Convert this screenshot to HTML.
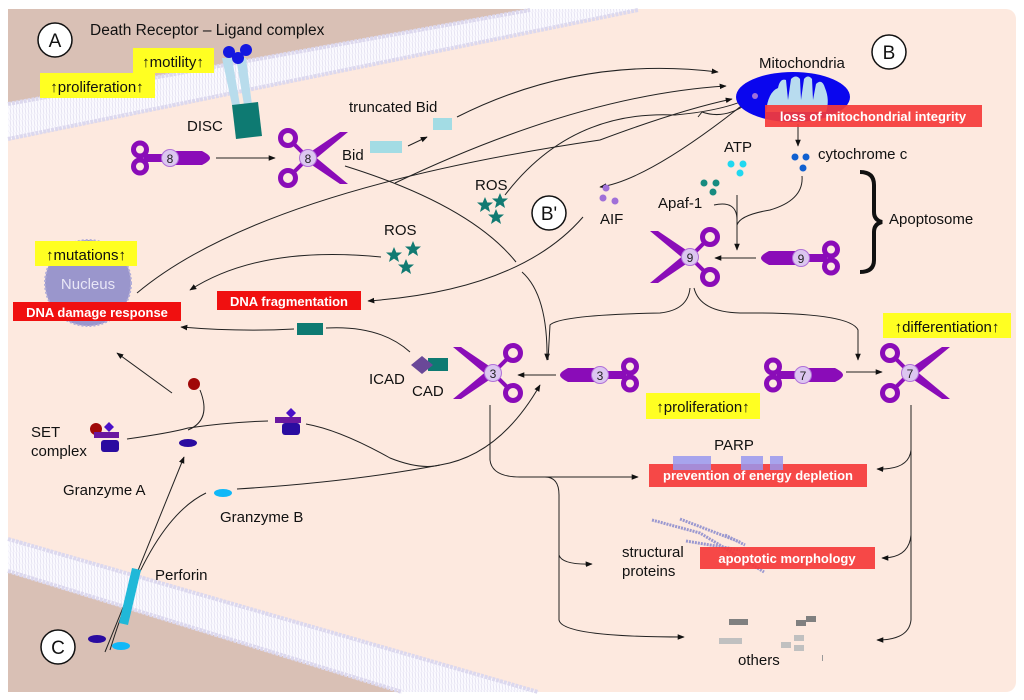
<!DOCTYPE html>
<html><head><meta charset="utf-8"><style>
html,body{margin:0;padding:0;background:#fff;}
svg{display:block;font-family:"Liberation Sans",Arial,sans-serif;}
</style></head><body>
<svg width="1024" height="700" viewBox="0 0 1024 700" xmlns="http://www.w3.org/2000/svg">
<defs>
<marker id="ar" viewBox="0 0 10 10" refX="9" refY="5" markerWidth="7" markerHeight="7" orient="auto"><path d="M0,1 L10,5 L0,9 z" fill="#111"/></marker>
<pattern id="lip" width="6" height="6" patternUnits="userSpaceOnUse"><rect width="6" height="6" fill="#fbfaff"/><line x1="1" y1="0" x2="2" y2="6" stroke="#e2dff0" stroke-width="0.8"/><line x1="4" y1="0" x2="5" y2="6" stroke="#e2dff0" stroke-width="0.8"/></pattern>
<g id="act">
  <path d="M-2,-3 L32,-26 L40,-26 L5,3 z" fill="#8a0cb8"/>
  <path d="M-2,3 L32,26 L40,26 L5,-3 z" fill="#8a0cb8"/>
  <line x1="0" y1="0" x2="-15" y2="-15" stroke="#8a0cb8" stroke-width="4"/>
  <line x1="0" y1="0" x2="-15" y2="15" stroke="#8a0cb8" stroke-width="4"/>
  <circle cx="-20" cy="-20" r="7.5" fill="none" stroke="#8a0cb8" stroke-width="5"/>
  <circle cx="-20" cy="20" r="7.5" fill="none" stroke="#8a0cb8" stroke-width="5"/>
  <circle cx="0" cy="0" r="8.5" fill="#dcc6f0" stroke="#b070d8" stroke-width="1"/>
</g>
<g id="pro">
  <circle cx="-30" cy="-8.5" r="6.5" fill="none" stroke="#8a0cb8" stroke-width="5"/>
  <circle cx="-30" cy="8.5" r="6.5" fill="none" stroke="#8a0cb8" stroke-width="5"/>
  <rect x="-26" y="-4" width="28" height="8" fill="#8a0cb8"/>
  <path d="M0,-7 L32,-7 Q40,-3 40,0 Q40,3 32,7 L0,7 z" fill="#8a0cb8"/>
  <circle cx="0" cy="0" r="8.5" fill="#dcc6f0" stroke="#b070d8" stroke-width="1"/>
</g>
<g id="star"><path d="M0,-8 L2.3,-2.5 L8,-2.5 L3.5,1.2 L5,7 L0,3.6 L-5,7 L-3.5,1.2 L-8,-2.5 L-2.3,-2.5 z" fill="#127a72"/></g>
</defs>

<rect x="0" y="0" width="1024" height="700" fill="#fff"/>
<rect x="8" y="9" width="1008" height="683" rx="10" fill="#fde9df"/>
<!-- top brown + membrane -->
<path d="M8,9 L640,9 L8,140 z" fill="#d9c0b5"/>
<path d="M8,103 L530,9 L640,9 L8,140 z" fill="url(#lip)"/>
<path d="M8,104 L530,10" stroke="#dcd8ee" stroke-width="4" stroke-dasharray="3 1"/>
<path d="M8,139 L638,10" stroke="#dcd8ee" stroke-width="4" stroke-dasharray="3 1"/>
<!-- bottom brown + membrane -->
<path d="M8,572 L400,692 L8,692 z" fill="#d9c0b5"/>
<path d="M8,538 L540,692 L400,692 L8,572 z" fill="url(#lip)"/>
<path d="M8,539 L538,692" stroke="#dcd8ee" stroke-width="4" stroke-dasharray="3 1"/>
<path d="M8,571 L402,692" stroke="#dcd8ee" stroke-width="4" stroke-dasharray="3 1"/>

<!-- labels circles -->
<g fill="#fff" stroke="#111" stroke-width="1.5">
<circle cx="55" cy="40" r="17"/><circle cx="889" cy="52" r="17"/><circle cx="549" cy="213" r="17"/><circle cx="58" cy="647" r="17"/>
</g>
<g font-size="19" text-anchor="middle" fill="#111">
<text x="55" y="47">A</text><text x="889" y="59">B</text><text x="549" y="220">B'</text><text x="58" y="654">C</text>
</g>
<text x="90" y="35" font-size="15.5" fill="#111">Death Receptor – Ligand complex</text>

<!-- yellow boxes -->
<rect x="133" y="48" width="81" height="25" fill="#ffff22"/>
<text x="173" y="67" font-size="15" text-anchor="middle" fill="#111">↑motility↑</text>
<rect x="40" y="73" width="115" height="25" fill="#ffff22"/>
<text x="97" y="92" font-size="15" text-anchor="middle" fill="#111">↑proliferation↑</text>

<!-- DISC -->
<path d="M222,58 L232,58 L240,105 L232,105 z" fill="#b8dcec"/>
<path d="M236,58 L246,58 L252,105 L244,105 z" fill="#b8dcec"/>
<path d="M232,105 L258,102 L262,136 L236,139 z" fill="#0e7a72"/>
<circle cx="229" cy="52" r="6" fill="#1418e0"/><circle cx="246" cy="50" r="6" fill="#1418e0"/><circle cx="238" cy="58" r="6" fill="#1418e0"/>
<text x="187" y="131" font-size="15" fill="#111">DISC</text>

<!-- connectors -->
<g fill="none" stroke="#222" stroke-width="1">
<path d="M216,158 L275,158" marker-end="url(#ar)"/>
<path d="M408,146 L427,137" marker-end="url(#ar)"/>
<path d="M457,117 Q580,55 718,72" marker-end="url(#ar)"/>
<path d="M395,183 Q580,95 726,86" marker-end="url(#ar)"/>
<path d="M137,293 Q260,190 600,140 Q680,110 732,99" marker-end="url(#ar)"/>
<path d="M505,195 Q570,110 675,115 Q730,110 755,95"/>
<path d="M755,95 Q650,180 600,187" marker-end="url(#ar)"/>
<path d="M748,103 Q725,120 702,112 M702,112 L698,117"/>
<path d="M798,124 L798,146" marker-end="url(#ar)"/>
<path d="M381,257 Q260,245 190,290" marker-end="url(#ar)"/>
<path d="M583,217 Q520,290 368,301" marker-end="url(#ar)"/>
<path d="M294,329 Q240,332 181,327" marker-end="url(#ar)"/>
<path d="M326,328 Q380,325 410,352"/>
<path d="M345,166 Q470,205 516,262"/>
<path d="M522,272 Q548,295 547,360" marker-end="url(#ar)"/>
<path d="M690,288 Q688,310 660,313 Q560,315 550,325 L548,360"/>
<path d="M694,288 Q700,312 740,313 Q850,312 858,330 L858,360" marker-end="url(#ar)"/>
<path d="M737,195 L737,250" marker-end="url(#ar)"/>
<path d="M714,205 Q737,200 737,220"/>
<path d="M802,176 Q804,200 770,210 Q740,215 737,225"/>
<path d="M756,258 L715,258" marker-end="url(#ar)"/>
<path d="M556,375 L518,375" marker-end="url(#ar)"/>
<path d="M846,372 L882,372" marker-end="url(#ar)"/>
<path d="M200,390 Q212,420 188,430"/>
<path d="M127,439 Q170,433 188,428 Q230,422 268,421"/>
<path d="M172,393 L117,353" marker-end="url(#ar)"/>
<path d="M306,424 Q340,430 390,458 Q420,470 440,465"/>
<path d="M237,489 Q350,482 440,465 Q500,455 540,385" marker-end="url(#ar)"/>
<path d="M105,652 L184,457" marker-end="url(#ar)"/>
<path d="M110,650 Q150,520 206,493"/>
<path d="M490,405 L490,460 Q492,477 520,477 L638,477" marker-end="url(#ar)"/>
<path d="M545,477 Q559,477 559,495 L559,555 Q562,565 592,564" marker-end="url(#ar)"/>
<path d="M559,555 L559,620 Q562,637 684,637" marker-end="url(#ar)"/>
<path d="M911,405 L911,450 Q909,470 877,469" marker-end="url(#ar)"/>
<path d="M911,450 L911,535 Q909,558 882,558" marker-end="url(#ar)"/>
<path d="M911,535 L911,620 Q909,640 877,640" marker-end="url(#ar)"/>
</g>

<!-- caspase 8 -->
<use href="#pro" x="170" y="158"/>
<text x="170" y="163" font-size="12" text-anchor="middle" fill="#222">8</text>
<use href="#act" x="308" y="158"/>
<text x="308" y="163" font-size="12" text-anchor="middle" fill="#222">8</text>

<text x="342" y="160" font-size="15" fill="#111">Bid</text>
<rect x="370" y="141" width="32" height="12" fill="#a3dce4"/>
<text x="349" y="112" font-size="15" fill="#111">truncated Bid</text>
<rect x="433" y="118" width="19" height="12" fill="#a3dce4"/>

<!-- mitochondria -->
<text x="759" y="68" font-size="15" fill="#111">Mitochondria</text>
<ellipse cx="793" cy="97" rx="57" ry="25" fill="#0a06ee"/>
<path d="M766,112 Q768,92 778,88 Q780,78 786,80 L788,100 L791,79 Q796,74 800,79 L801,100 L804,79 Q808,74 812,79 L813,100 L816,84 Q822,78 825,88 Q830,100 826,112 z" fill="#b8dcef"/>
<circle cx="755" cy="96" r="3" fill="#a070d8"/>
<rect x="765" y="105" width="217" height="22" fill="#f53a3a" opacity="0.92"/>
<text x="873" y="121" font-size="13" font-weight="bold" text-anchor="middle" fill="#fff">loss of mitochondrial integrity</text>

<circle cx="795" cy="157" r="3.5" fill="#1060d0"/><circle cx="806" cy="157" r="3.5" fill="#1060d0"/><circle cx="803" cy="168" r="3.5" fill="#1060d0"/>
<text x="818" y="159" font-size="15" fill="#111">cytochrome c</text>
<text x="724" y="152" font-size="15" fill="#111">ATP</text>
<circle cx="731" cy="164" r="3.5" fill="#20d8f0"/><circle cx="743" cy="164" r="3.5" fill="#20d8f0"/><circle cx="740" cy="173" r="3.5" fill="#20d8f0"/>
<circle cx="704" cy="183" r="3.5" fill="#178b80"/><circle cx="716" cy="183" r="3.5" fill="#178b80"/><circle cx="713" cy="192" r="3.5" fill="#178b80"/>
<text x="658" y="208" font-size="15" fill="#111">Apaf-1</text>
<circle cx="606" cy="188" r="3.5" fill="#a070d8"/><circle cx="603" cy="198" r="3.5" fill="#a070d8"/><circle cx="615" cy="201" r="3.5" fill="#a070d8"/>
<text x="600" y="224" font-size="15" fill="#111">AIF</text>

<text x="475" y="190" font-size="15" fill="#111">ROS</text>
<use href="#star" x="485" y="205"/><use href="#star" x="500" y="201"/><use href="#star" x="496" y="217"/>
<text x="384" y="235" font-size="15" fill="#111">ROS</text>
<use href="#star" x="394" y="255"/><use href="#star" x="413" y="249"/><use href="#star" x="406" y="267"/>

<!-- brace -->
<path d="M860,172 Q874,172 874,185 L874,212 Q874,220 882,222 Q874,224 874,232 L874,260 Q874,272 860,272" fill="none" stroke="#111" stroke-width="4"/>
<text x="889" y="224" font-size="15" fill="#111">Apoptosome</text>

<!-- caspase 9 -->
<g transform="translate(690,257) scale(-1,1)"><use href="#act"/></g>
<text x="690" y="262" font-size="12" text-anchor="middle" fill="#222">9</text>
<g transform="translate(801,258) scale(-1,1)"><use href="#pro"/></g>
<text x="801" y="263" font-size="12" text-anchor="middle" fill="#222">9</text>

<!-- nucleus -->
<circle cx="88" cy="283" r="43" fill="#9a96cc" stroke="#b0acd8" stroke-width="2" stroke-dasharray="2 2"/>
<text x="88" y="289" font-size="15" text-anchor="middle" fill="#e8e6f6">Nucleus</text>
<rect x="35" y="241" width="102" height="25" fill="#ffff22"/>
<text x="86" y="260" font-size="15" text-anchor="middle" fill="#111">↑mutations↑</text>
<rect x="13" y="302" width="168" height="19" fill="#f01010"/>
<text x="97" y="317" font-size="13" font-weight="bold" text-anchor="middle" fill="#fff">DNA damage response</text>
<rect x="217" y="291" width="144" height="19" fill="#f01010"/>
<text x="289" y="306" font-size="13" font-weight="bold" text-anchor="middle" fill="#fff">DNA fragmentation</text>
<rect x="297" y="323" width="26" height="12" fill="#0e7a72"/>

<!-- ICAD/CAD -->
<rect x="428" y="358" width="20" height="13" fill="#0e7a72"/>
<path d="M411,365 L422,356 L433,365 L422,374 z" fill="#6a4898"/>
<text x="369" y="384" font-size="15" fill="#111">ICAD</text>
<text x="412" y="396" font-size="15" fill="#111">CAD</text>

<!-- caspase 3 -->
<g transform="translate(493,373) scale(-1,1)"><use href="#act"/></g>
<text x="493" y="378" font-size="12" text-anchor="middle" fill="#222">3</text>
<g transform="translate(600,375) scale(-1,1)"><use href="#pro"/></g>
<text x="600" y="380" font-size="12" text-anchor="middle" fill="#222">3</text>
<!-- caspase 7 -->
<use href="#pro" x="803" y="375"/>
<text x="803" y="380" font-size="12" text-anchor="middle" fill="#222">7</text>
<use href="#act" x="910" y="373"/>
<text x="910" y="378" font-size="12" text-anchor="middle" fill="#222">7</text>

<rect x="646" y="393" width="114" height="26" fill="#ffff22"/>
<text x="703" y="412" font-size="15" text-anchor="middle" fill="#111">↑proliferation↑</text>
<rect x="883" y="313" width="128" height="25" fill="#ffff22"/>
<text x="947" y="332" font-size="15" text-anchor="middle" fill="#111">↑differentiation↑</text>

<!-- PARP -->
<text x="734" y="450" font-size="15" text-anchor="middle" fill="#111">PARP</text>
<rect x="649" y="464" width="218" height="23" fill="#f53a3a" opacity="0.92"/>
<rect x="673" y="456" width="38" height="14" fill="#9898f0" opacity="0.85"/>
<rect x="741" y="456" width="22" height="14" fill="#9898f0" opacity="0.85"/>
<rect x="770" y="456" width="13" height="14" fill="#9898f0" opacity="0.85"/>
<text x="758" y="480" font-size="13" font-weight="bold" text-anchor="middle" fill="#fff">prevention of energy depletion</text>

<!-- structural -->
<g stroke="#9a98d0" stroke-width="3" stroke-dasharray="2 1" fill="none">
<path d="M652,520 L700,533 L764,572"/><path d="M680,519 L740,542"/><path d="M686,541 L740,550"/><path d="M725,535 L745,545"/>
</g>
<rect x="700" y="547" width="175" height="22" fill="#f53a3a" opacity="0.92"/>
<text x="787" y="563" font-size="13" font-weight="bold" text-anchor="middle" fill="#fff">apoptotic morphology</text>
<text x="622" y="557" font-size="15" fill="#111">structural</text>
<text x="622" y="576" font-size="15" fill="#111">proteins</text>

<!-- others -->
<rect x="729" y="619" width="19" height="6" fill="#808080"/>
<rect x="719" y="638" width="23" height="6" fill="#c0c0c0"/>
<rect x="796" y="620" width="10" height="6" fill="#808080"/>
<rect x="806" y="616" width="10" height="6" fill="#808080"/>
<rect x="781" y="642" width="10" height="6" fill="#c0c0c0"/>
<rect x="794" y="635" width="10" height="6" fill="#c0c0c0"/>
<rect x="794" y="645" width="10" height="6" fill="#c0c0c0"/>
<rect x="822" y="655" width="1" height="6" fill="#999"/>
<text x="738" y="665" font-size="15" fill="#111">others</text>

<!-- SET complex -->
<text x="31" y="437" font-size="15" fill="#111">SET</text>
<text x="31" y="456" font-size="15" fill="#111">complex</text>
<circle cx="96" cy="429" r="6" fill="#a00808"/>
<rect x="101" y="440" width="18" height="12" rx="3" fill="#2a0ca0"/>
<rect x="94" y="432" width="25" height="6" fill="#6a18a0"/>
<path d="M109,422 L114,427 L109,432 L104,427 z" fill="#4a10c8"/>
<circle cx="194" cy="384" r="6" fill="#a00808"/>
<ellipse cx="188" cy="443" rx="9" ry="4" fill="#2a0ca0"/>
<rect x="282" y="423" width="18" height="12" rx="3" fill="#2a0ca0"/>
<rect x="275" y="417" width="26" height="6" fill="#6a18a0"/>
<path d="M291,408 L296,413 L291,418 L286,413 z" fill="#4a10c8"/>

<text x="63" y="495" font-size="15" fill="#111">Granzyme A</text>
<text x="220" y="522" font-size="15" fill="#111">Granzyme B</text>
<ellipse cx="223" cy="493" rx="9" ry="4" fill="#10b8f8"/>
<!-- perforin -->
<path d="M132,568 L141,570 L128,625 L119,623 z" fill="#20b8d8"/>
<text x="155" y="580" font-size="15" fill="#111">Perforin</text>
<ellipse cx="97" cy="639" rx="9" ry="4" fill="#2a0ca0"/>
<ellipse cx="121" cy="646" rx="9" ry="4" fill="#10b8f8"/>
</svg>
</body></html>
